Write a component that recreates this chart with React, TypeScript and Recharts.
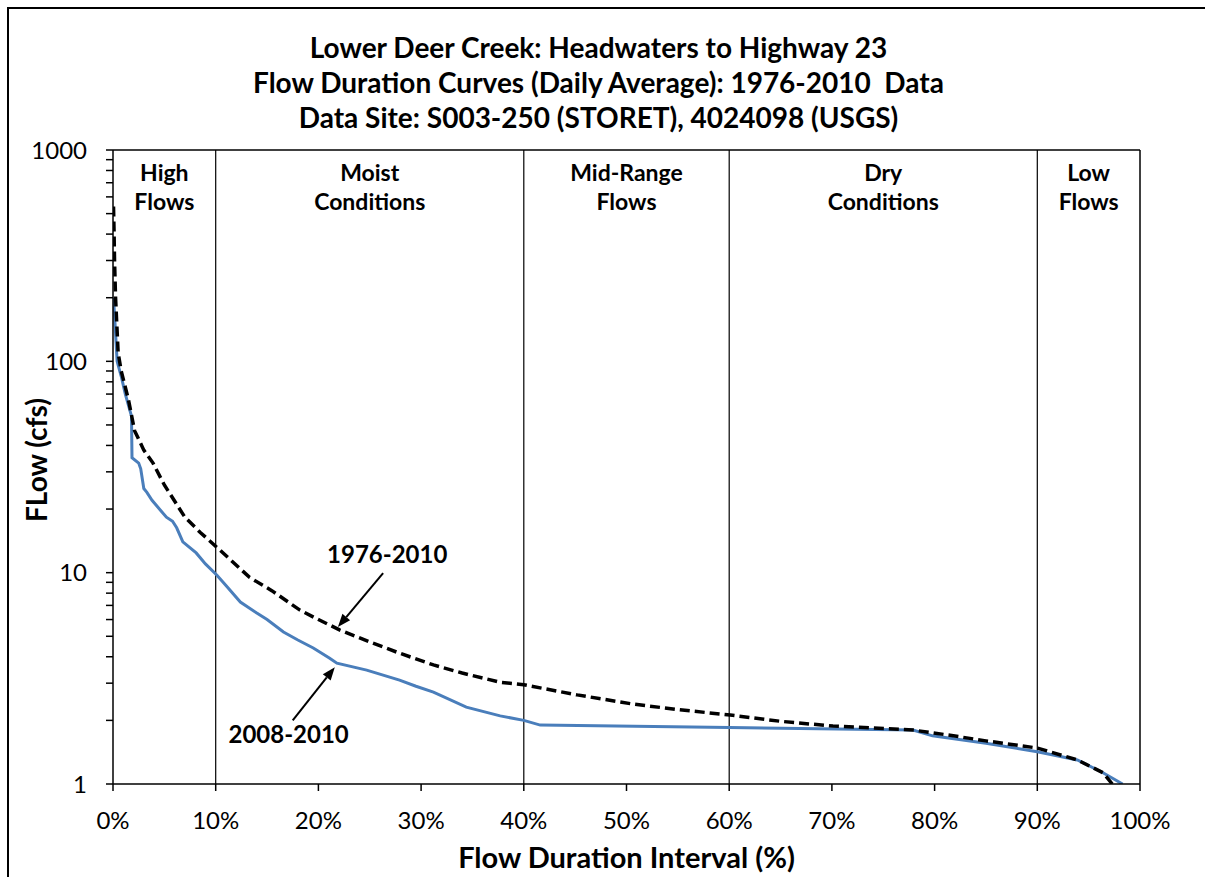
import React from 'react';
import { LineChart, Line, XAxis, YAxis, ReferenceLine, ReferenceArea, ReferenceDot } from 'recharts';

const titleLines = [
  'Lower Deer Creek: Headwaters to Highway 23',
  'Flow Duration Curves (Daily Average): 1976-2010  Data',
  'Data Site: S003-250 (STORET), 4024098 (USGS)',
];

const xTicks = [0, 10, 20, 30, 40, 50, 60, 70, 80, 90, 100];
const yTicks = [1, 2, 3, 4, 5, 6, 7, 8, 9, 10, 20, 30, 40, 50, 60, 70, 80, 90, 100, 200, 300, 400, 500, 600, 700, 800, 900, 1000];
const yLabelTicks = [1, 10, 100, 1000];

const zoneBounds = [10, 40, 60, 90];
const zones = [
  { from: 0, to: 10, lines: ['High', 'Flows'] },
  { from: 10, to: 40, lines: ['Moist', 'Conditions'] },
  { from: 40, to: 60, lines: ['Mid-Range', 'Flows'] },
  { from: 60, to: 90, lines: ['Dry', 'Conditions'] },
  { from: 90, to: 100, lines: ['Low', 'Flows'] },
];

const longTermPct = [0.05, 0.1, 0.15, 0.25, 0.5, 0.8, 1.5, 2.1, 3.0, 3.9, 5.0, 7.0, 8.5, 10.1, 13.3, 15.5, 18.2, 20, 22.1, 25, 27.9, 31.2, 34, 37.7, 40, 45.2, 50.6, 55, 60.1, 65, 70.1, 74, 77.9, 81.5, 85, 90, 93.9, 96.4, 97.3];
const longTermFlow = [540, 420, 300, 200, 110, 90, 66, 47, 38, 33, 26, 18.3, 15.5, 13.2, 9.5, 8.2, 6.65, 6.0, 5.35, 4.7, 4.16, 3.66, 3.35, 3.03, 2.95, 2.64, 2.39, 2.25, 2.12, 1.98, 1.88, 1.84, 1.8, 1.7, 1.6, 1.48, 1.3, 1.13, 1.0];

const recentPct = [0.05, 0.2, 0.4, 0.8, 1.2, 1.8, 1.85, 2.5, 2.7, 3.0, 3.3, 3.8, 4.6, 5.2, 5.8, 6.2, 6.8, 8.1, 9, 10.1, 11, 12.4, 14, 15, 16.6, 18, 19.5, 21.1, 21.8, 24.7, 27.9, 29.5, 31.2, 34.4, 37.7, 40, 41.6, 60, 77.9, 79.8, 85, 90, 93.9, 96.4, 98.3];
const recentFlow = [200, 150, 100, 85, 70, 55, 35, 33, 31, 25, 24, 22, 19.8, 18.3, 17.5, 16.3, 14.0, 12.4, 11, 9.75, 8.7, 7.26, 6.44, 6.0, 5.24, 4.8, 4.4, 3.94, 3.73, 3.46, 3.1, 2.9, 2.72, 2.31, 2.1, 2.0, 1.9, 1.85, 1.8, 1.69, 1.56, 1.42, 1.3, 1.13, 1.0];

const annotations = [
  { text: '1976-2010', x: 26.8, y: 12.1, from: { x: 26.3, y: 9.95 }, to: { x: 21.9, y: 5.53 } },
  { text: '2008-2010', x: 17.2, y: 1.7, from: { x: 17.5, y: 2.0 }, to: { x: 21.6, y: 3.57 } },
];

const longTerm = longTermPct.map((p, i) => ({ pct: p, flow: longTermFlow[i] }));
const recent = recentPct.map((p, i) => ({ pct: p, flow: recentFlow[i] }));

const FONT = 'Lato, "Open Sans", sans-serif';

const YTick = (props: any) => {
  const { x, y, payload } = props;
  if (!yLabelTicks.includes(payload.value)) return null;
  return (
    <text x={x} y={y} dy="0.355em" textAnchor="end" fontSize={24} fontFamily={FONT} fill="#000">
      {payload.value}
    </text>
  );
};

const zoneLabel = (lines: string[]) => (props: any) => {
  const vb = props.viewBox || {};
  const cx = vb.x + vb.width / 2;
  return (
    <text x={cx} y={vb.y + 31} textAnchor="middle" fontSize={23} fontWeight={700} fontFamily={FONT} fill="#000">
      {lines.map((l, i) => (
        <tspan key={i} x={cx} dy={i === 0 ? 0 : 29}>{l}</tspan>
      ))}
    </text>
  );
};

const arrowShape = (props: any) => {
  const { x1, y1, x2, y2 } = props;
  if ([x1, y1, x2, y2].some((v) => typeof v !== 'number' || isNaN(v))) return null;
  const ang = Math.atan2(y2 - y1, x2 - x1);
  const L = 13;
  const W = 5;
  const bx = x2 - L * Math.cos(ang);
  const by = y2 - L * Math.sin(ang);
  const px = -Math.sin(ang) * W;
  const py = Math.cos(ang) * W;
  return (
    <g>
      <line x1={x1} y1={y1} x2={bx} y2={by} stroke="#000" strokeWidth={2} />
      <path d={`M${x2},${y2} L${bx + px},${by + py} L${bx - px},${by - py} Z`} fill="#000" />
    </g>
  );
};

const annoLabel = (text: string) => (props: any) => {
  const vb = props.viewBox || {};
  const cx = vb.cx ?? vb.x;
  const cy = vb.cy ?? vb.y;
  return (
    <text x={cx} y={cy} dy="0.355em" textAnchor="middle" fontSize={24} fontWeight={700} fontFamily={FONT} fill="#000">
      {text}
    </text>
  );
};

export default function App() {
  return (
    <div style={{ position: 'fixed', left: 0, top: 0, width: 1205, height: 877, overflow: 'hidden', background: '#fff' }}>
      <div style={{ position: 'absolute', left: 7, top: 7, width: 1210, height: 890, border: '2px solid #000', boxSizing: 'border-box' }} />
      <div style={{ position: 'absolute', left: 0, top: 30, width: 1205, textAlign: 'center' }}>
        {titleLines.map((t, i) => (
          <div key={i} style={{ fontFamily: FONT, fontWeight: 700, fontSize: 28, lineHeight: '35px', color: '#000', whiteSpace: 'pre', marginLeft: -8 }}>
            {t}
          </div>
        ))}
      </div>
      <div style={{ position: 'absolute', left: 0, top: 0 }}>
        <LineChart width={1205} height={877} margin={{ top: 150, right: 65, bottom: 33, left: 13 }}>
          <XAxis
            dataKey="pct"
            type="number"
            domain={[0, 100]}
            ticks={xTicks}
            allowDataOverflow
            tickFormatter={(v: number) => `${v}%`}
            tick={{ fontSize: 24, fontFamily: FONT, fill: '#000' }}
            tickSize={7}
            tickMargin={21}
            height={60}
            axisLine={{ stroke: '#000', strokeWidth: 1.5 }}
            tickLine={{ stroke: '#000', strokeWidth: 1.5 }}
            label={{
              content: (p: any) => {
                const vb = p.viewBox;
                const cx = vb.x + vb.width / 2;
                const cy = vb.y + 74;
                return (
                  <text x={cx} y={cy} textAnchor="middle" dy="0.355em" fontSize={29} fontWeight={700} fontFamily={FONT} fill="#000">
                    Flow Duration Interval (%)
                  </text>
                );
              },
            }}
          />
          <YAxis
            dataKey="flow"
            type="number"
            scale="log"
            domain={[1, 1000]}
            ticks={yTicks}
            allowDataOverflow
            interval={0}
            width={100}
            tick={<YTick />}
            tickSize={7}
            tickMargin={19}
            axisLine={{ stroke: '#000', strokeWidth: 1.5 }}
            tickLine={{ stroke: '#000', strokeWidth: 1.5 }}
            label={{
              content: (p: any) => {
                const vb = p.viewBox;
                const cx = vb.x + 24;
                const cy = vb.y + vb.height / 2 - 7;
                return (
                  <text x={cx} y={cy} transform={`rotate(-90 ${cx} ${cy})`} textAnchor="middle" dy="0.355em" fontSize={28} fontWeight={700} fontFamily={FONT} fill="#000">
                    FLow (cfs)
                  </text>
                );
              },
            }}
          />
          <ReferenceLine y={1000} stroke="#000" strokeWidth={1.5} />
          <ReferenceLine x={100} stroke="#000" strokeWidth={1.5} />
          {zoneBounds.map((b) => (
            <ReferenceLine key={b} x={b} stroke="#000" strokeWidth={1.2} />
          ))}
          {zones.map((z, i) => (
            <ReferenceArea key={i} x1={z.from} x2={z.to} y1={1} y2={1000} fill="none" fillOpacity={0} stroke="none" label={{ content: zoneLabel(z.lines) } as any} />
          ))}
          <Line data={recent} dataKey="flow" type="linear" stroke="#4A7EBB" strokeWidth={3} dot={false} isAnimationActive={false} />
          <Line data={longTerm} dataKey="flow" type="linear" stroke="#000" strokeWidth={3.5} strokeDasharray="10 5" dot={false} isAnimationActive={false} />
          {annotations.map((a, i) => (
            <ReferenceLine key={`ar${i}`} segment={[a.from, a.to]} stroke="#000" shape={arrowShape} />
          ))}
          {annotations.map((a, i) => (
            <ReferenceDot key={`lb${i}`} x={a.x} y={a.y} r={1} fill="none" stroke="none" label={{ content: annoLabel(a.text) } as any} />
          ))}
        </LineChart>
      </div>
    </div>
  );
}
